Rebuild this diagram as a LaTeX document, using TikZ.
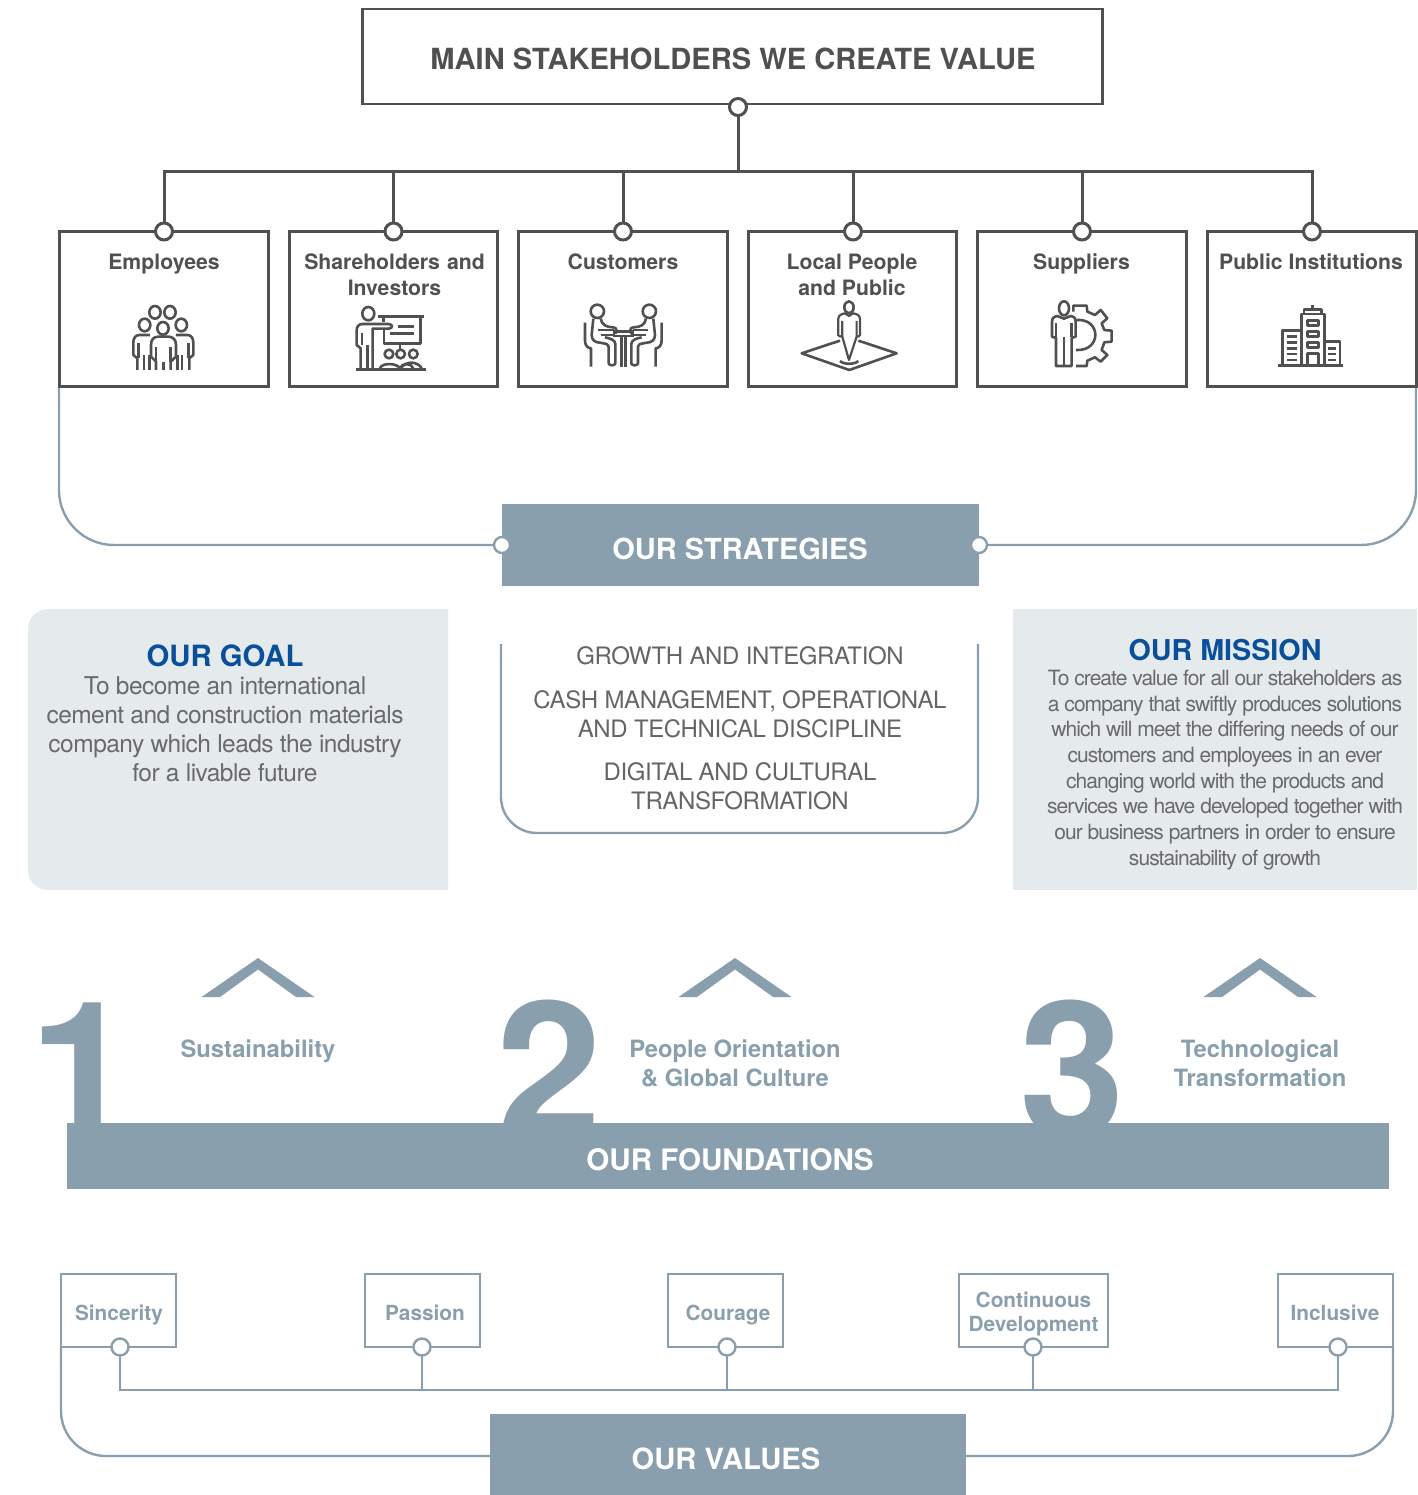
\documentclass[tikz,border=0pt]{standalone}
\usepackage{fontspec}
\setmainfont{TeX Gyre Heros}
\newfontfamily\tightfont[LetterSpace=-4.5]{TeX Gyre Heros}
\newfontfamily\midfont[LetterSpace=-1.6]{TeX Gyre Heros}
\newfontfamily\goalfont[LetterSpace=-2.2]{TeX Gyre Heros}
\definecolor{dk}{HTML}{505052}
\definecolor{sl}{HTML}{8A9FAD}
\definecolor{pale}{HTML}{E5EAED}
\definecolor{blu}{HTML}{0A4F9A}
\tikzset{
  x=1pt,y=-1pt,outer sep=0pt,
  dkbox/.style={draw=dk,line width=2.8pt,fill=white,minimum width=#1,minimum height=155,inner sep=0pt,anchor=north west},
  stitle/.style={text=dk,font=\fontsize{21.2}{26}\selectfont\bfseries,align=center,inner sep=0},
  dkdot/.style={circle,draw=dk,line width=3pt,fill=white,minimum size=17,inner sep=0},
  sldot/.style={circle,draw=sl,line width=2.4pt,fill=white,minimum size=17,inner sep=0},
  banner/.style={fill=sl,inner sep=0},
  bantext/.style={text=white,font=\fontsize{#1}{34}\selectfont\bfseries,inner sep=0},
  slline/.style={draw=sl,line width=2.4pt},
  dkline/.style={draw=dk,line width=3pt},
  vbox/.style={draw=sl,line width=2.6pt,fill=white,inner sep=0,minimum height=73,anchor=north west},
  vtext/.style={text=sl,inner sep=0,font=\fontsize{20.8}{24}\selectfont\bfseries,align=center},
  flabel/.style={text=sl,font=\fontsize{23.8}{29}\selectfont\bfseries,align=center,inner sep=0},
  bigdigit/.style={text=sl,font=\fontsize{190}{190}\selectfont\bfseries,inner sep=0,anchor=base west},
  chev/.style={fill=sl,draw=none},
  ic/.style={draw=dk,line width=2.6pt,line join=round,fill=none},
  icthin/.style={draw=dk,line width=2.2pt,line join=round},
  strat/.style={text=dk!88,font=\midfont\fontsize{24}{29}\selectfont,align=center,inner sep=0},
  bluehead/.style={text=blu,font=\fontsize{#1}{34}\selectfont\bfseries,inner sep=0},
}
\begin{document}
\begin{tikzpicture}
\useasboundingbox (0,0) rectangle (1417,1495);
% large digits (behind the bar)
\node[bigdigit] (d1) at (29,1137) {1};
\node[bigdigit] (d2) at (496,1137) {2};
\node[bigdigit] (d3) at (1019,1137) {3};
% strategies curves and stakeholders
\coordinate (hub) at (738,172);
\coordinate (rl) at (59,387);
\coordinate (rr) at (1416,387);
\node[banner,minimum width=477,minimum height=82] (strategies) at (740.5,545) {};
\node[bantext=29] (stratT) at (740,549) {OUR STRATEGIES};
\node[sldot,minimum size=16] (sl1) at (502,545) {};
\node[sldot,minimum size=16] (sl2) at (979,545) {};
\draw[slline,rounded corners=55] (rl) -- (59,545) -- (sl1);
\draw[slline,rounded corners=55] (rr) -- (1416,545) -- (sl2);
% title
\node[draw=dk,line width=2.8pt,minimum width=740,minimum height=95,inner sep=0,fill=white] (title) at (732.5,56.5) {};
\node[text=dk,font=\fontsize{29.1}{34}\selectfont\bfseries,inner sep=0] (titleT) at (733,59) {MAIN STAKEHOLDERS WE CREATE VALUE};
\node[dkdot] (c0) at (738,107) {};
\node[dkbox=209] (b1) at (59.5,231.5) {};
\node[dkbox=208] (b2) at (289.5,231.5) {};
\node[dkbox=209] (b3) at (518.5,231.5) {};
\node[dkbox=208] (b4) at (748.5,231.5) {};
\node[dkbox=209] (b5) at (977.5,231.5) {};
\node[dkbox=209] (b6) at (1207.5,231.5) {};
\foreach \n/\xx in {1/164,2/393.5,3/623,4/853,5/1082,6/1312}{
  \node[dkdot] (c\n) at (\xx,231.5) {};
}
\draw[dkline] (c0) -- (hub);
\foreach \n in {1,2,3,4,5,6}{ \draw[dkline] (hub) -| (c\n); }
\node[stitle] (t1) at (164,264) {Employees};
\node[stitle,text width=200] (t2) at (394.5,275) {Shareholders and\\Investors};
\node[stitle] (t3) at (623,262) {Customers};
\node[stitle] (t4) at (852,275) {Local People\\and Public};
\node[stitle] (t5) at (1081.5,264) {Suppliers};
\node[stitle] (t6) at (1311,262) {Public Institutions};
% ---- icons (coordinates from 3x crops)
\begin{scope}[shift={(50,220)},x=0.3333pt,y=-0.3333pt]
  % employees
  \foreach \cx/\cy in {315/277,360/277,284/315,394/315,339/325}{\draw[ic] (\cx,\cy) circle[x radius=17,y radius=19];}
  \draw[ic] (318,450)--(318,425)--(303,410)--(303,375) .. controls (303,358) and (312,350) .. (325,350)--(355,350) .. controls (368,350) and (378,358) .. (378,375)--(378,410)--(362,425)--(362,450);
  \draw[ic] (318,380)--(318,425) (362,380)--(362,425) (340,425)--(340,450);
  \draw[ic] (300,345)--(268,345) .. controls (256,345) and (250,355) .. (250,368)--(250,405)--(262,415)--(262,450);
  \draw[ic] (378,345)--(412,345) .. controls (424,345) and (430,355) .. (430,368)--(430,405)--(418,415)--(418,450);
  \draw[ic] (265,370)--(265,415) (415,370)--(415,415) (282,405)--(282,450) (298,405)--(298,450) (396,405)--(396,450) (382,405)--(382,450);
  % investors
  \draw[ic] (955,281) circle[x radius=18,y radius=20];
  \draw[ic] (932,450)--(932,385)--(920,375)--(920,332) .. controls (920,320) and (926,312) .. (938,312)--(1015,312) .. controls (1030,312) and (1030,326) .. (1015,326)--(968,326)--(968,450);
  \draw[ic] (936,340)--(936,375) (952,375)--(952,450);
  \draw[ic] (985,290)--(1122,290) (1000,290)--(1000,306) (1112,290)--(1112,370)--(1002,370)--(1002,328);
  \draw[ic] (1045,320)--(1092,320) (1020,340)--(1092,340) (1050,370)--(1050,388);
  \foreach \cx in {1017,1052,1090}{\draw[ic] (\cx,402) circle[radius=13];}
  \draw[ic] (990,445) .. controls (995,428) and (1040,428) .. (1050,445) .. controls (1055,428) and (1085,428) .. (1090,445);
  \draw[ic] (1052,445) .. controls (1070,420) and (1105,425) .. (1115,445);
  \draw[draw=dk,line width=3.2pt] (918,448)--(1128,448);
\end{scope}
\begin{scope}[shift={(510,220)},x=0.3333pt,y=-0.3333pt]
  % customers
  \foreach \s/\c in {1/0,-1/680}{
   \begin{scope}[shift={(\c,0)},x=\s*0.3333pt]
    \draw[ic] (262,274) circle[radius=20];
    \draw[ic] (225,308)--(225,362) .. controls (225,378) and (235,385) .. (243,385)--(243,440);
    \draw[ic] (250,296)--(245,345) .. controls (245,360) and (255,368) .. (270,368)--(290,372) .. controls (296,374) and (296,380) .. (296,390)--(296,430) .. controls (296,438) and (316,438) .. (316,430)--(316,372) .. controls (316,360) and (300,355) .. (285,352);
    \draw[ic] (272,296) .. controls (275,315) and (290,322) .. (310,322) .. controls (322,322) and (322,340) .. (315,340);
    \draw[ic] (265,330)--(312,330) (272,345)--(310,345);
   \end{scope}}
  \draw[draw=dk,line width=2.6pt] (312,335) rectangle (368,348);
  \draw[ic] (334,350)--(334,440) (346,350)--(346,440);
  % local people
  \draw[ic] (990,362)--(875,400)--(1018,450)--(1160,400)--(1045,362);
  \draw[ic] (1017,262) circle[x radius=14,y radius=18];
  \draw[icthin] (985,348)--(985,297) .. controls (985,285) and (995,282) .. (1005,280)--(1017,288)--(1029,280) .. controls (1040,282) and (1050,285) .. (1050,297)--(1050,348);
  \draw[icthin] (997,303)--(997,350)--(1017,420)--(1040,350)--(1040,303);
  \draw[icthin] (985,348)--(997,350) (1050,348)--(1040,350);
  \draw[ic] (990,423) .. controls (1000,434) and (1035,434) .. (1045,423);
\end{scope}
\begin{scope}[shift={(970,220)},x=0.3333pt,y=-0.3333pt]
  % suppliers
  \draw[ic] (282,265) circle[x radius=15,y radius=21];
  \draw[ic] (258,438)--(258,354)--(246,350)--(246,305) .. controls (246,294) and (252,290) .. (262,288)--(282,296)--(302,288) .. controls (312,290) and (317,294) .. (317,305)--(317,350)--(305,354)--(305,438)--cycle;
  \draw[ic] (282,350)--(282,438) (258,310)--(258,350) (305,310)--(305,350);
  \draw[ic] (310,275)--(310,257)--(350,257)--(352,275)--(375,285)--(392,270)--(412,295)--(395,310)--(403,330)--(425,332)--(425,365)--(403,367)--(395,390)--(412,405)--(392,425)--(375,412)--(352,422)--(350,438)--(318,438);
  \draw[ic] (320,300) .. controls (395,295) and (395,395) .. (318,390);
  % building
  \draw[ic] (995,436)--(995,282)--(1063,282)--(1063,436);
  \draw[ic] (1002,282)--(1002,268)--(1055,268)--(1055,282) (1028,268)--(1028,256);
  \foreach \yy in {302,335,367}{\draw[ic] (1012,\yy) rectangle (1046,\yy+15);}
  \draw[ic] (1012,436)--(1012,400)--(1046,400)--(1046,436);
  \draw[ic] (937,436)--(937,332)--(995,332) (1063,365)--(1110,365)--(1110,436);
  \foreach \yy in {350,368,385,402,420}{\draw[ic] (950,\yy)--(982,\yy);}
  \foreach \yy in {385,402,420}{\draw[ic] (1075,\yy)--(1098,\yy);}
  \draw[draw=dk,line width=3.2pt] (925,436)--(1118,436);
\end{scope}
% goal panel
\fill[pale,rounded corners=20] (448,609) [sharp corners] -- (448,609) [rounded corners=20] -- (28,609) -- (28,890) [sharp corners] -- (448,890) -- cycle;
\node[bluehead=29.3] (goalT) at (225,656) {OUR GOAL};
\node[text=dk!85,font=\goalfont\fontsize{24.5}{29}\selectfont,align=center,inner sep=0,anchor=north] (goal) at (225,677) {To become an international\\cement and construction materials\\company which leads the industry\\for a livable future};
% mission panel
\fill[pale] (1013,609) rectangle (1417,890);
\node[bluehead=28.7] (missionT) at (1225,650) {OUR MISSION};
\node[text=dk!85,font=\tightfont\fontsize{21}{25.7}\selectfont,align=center,inner sep=0,anchor=north] (mission) at (1225,670) {To create value for all our stakeholders as\\a company that swiftly produces solutions\\which will meet the differing needs of our\\customers and employees in an ever\\changing world with the products and\\services we have developed together with\\our business partners in order to ensure\\sustainability of growth};
% middle bracket
\draw[slline,rounded corners=36] (501,644) -- (501,833) -- (978,833) -- (978,644);
\node[strat] (s1) at (740,656) {GROWTH AND INTEGRATION};
\node[strat] (s2) at (740,714) {CASH MANAGEMENT, OPERATIONAL\\AND TECHNICAL DISCIPLINE};
\node[strat] (s3) at (740,786) {DIGITAL AND CULTURAL\\TRANSFORMATION};
% chevrons
\foreach \xx in {258,735,1260}{
  \fill[chev] (\xx-56.5,997) -- (\xx,958) -- (\xx+56.5,997) -- (\xx+38,997) -- (\xx,969.5) -- (\xx-38,997) -- cycle;
}
\node[flabel] (f1) at (258,1051) {Sustainability};
\node[flabel] (f2) at (735,1063.5) {People Orientation\\\& Global Culture};
\node[flabel] (f3) at (1260,1063.5) {Technological\\Transformation};
% foundations bar
\node[banner,minimum width=1322,minimum height=66] (found) at (728,1156) {};
\node[bantext=29.6] (foundT) at (730,1160) {OUR FOUNDATIONS};
% values
\node[banner,minimum width=476,minimum height=81] (values) at (728,1454.5) {};
\node[bantext=29.2] (valuesT) at (726,1459) {OUR VALUES};
\node[vbox,minimum width=115] (v1) at (61,1274) {};
\node[vbox,minimum width=115] (v2) at (365,1274) {};
\node[vbox,minimum width=115] (v3) at (668,1274) {};
\node[vbox,minimum width=149] (v4) at (959,1274) {};
\node[vbox,minimum width=115] (v5) at (1278,1274) {};
\node[vtext] (vt1) at (119,1315) {Sincerity};
\node[vtext] (vt2) at (425,1313) {Passion};
\node[vtext] (vt3) at (728,1315) {Courage};
\node[vtext] (vt4) at (1033.5,1314) {Continuous\\Development};
\node[vtext] (vt5) at (1335,1313) {Inclusive};
\foreach \n/\xx in {1/120,2/422,3/727,4/1033,5/1338}{
  \node[sldot] (vc\n) at (\xx,1347) {};
}
\coordinate (vl) at (120,1390);
\coordinate (vr) at (1338,1390);
\draw[slline] (vc1) -- (vl) -- (vr) -- (vc5);
\draw[slline] (vc2) -- (422,1390);
\draw[slline] (vc3) -- (727,1390);
\draw[slline] (vc4) -- (1033,1390);
\coordinate (vbl) at (61,1347);
\coordinate (vbr) at (1393,1347);
\coordinate (vwl) at (490,1456);
\coordinate (vwr) at (966,1456);
\draw[slline,rounded corners=45] (vbl) -- (61,1456) -- (vwl);
\draw[slline,rounded corners=45] (vbr) -- (1393,1456) -- (vwr);
\end{tikzpicture}
\end{document}
